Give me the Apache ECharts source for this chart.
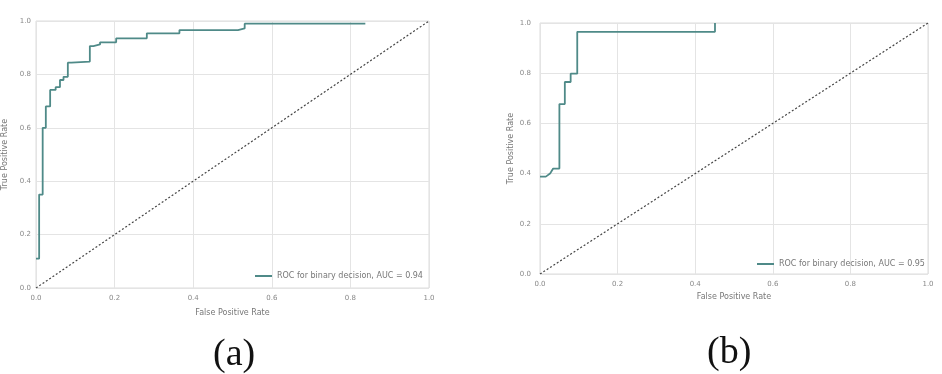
<!DOCTYPE html>
<html>
<head>
<meta charset="utf-8">
<script src="https://cdn.jsdelivr.net/npm/echarts@6/dist/echarts.min.js"></script>
<style>
  html, body { margin: 0; padding: 0; background: #fff; }
  #chart { width: 942px; height: 374px; }
</style>
</head>
<body>
<div id="chart"></div>
<script>
// ROC (a)
const fprA = [0, 0.008, 0.008, 0.017, 0.017, 0.025, 0.025, 0.036, 0.036, 0.05, 0.05, 0.061, 0.061, 0.07, 0.07,
  0.081, 0.081, 0.09, 0.09, 0.137, 0.137, 0.146, 0.146, 0.163, 0.163, 0.204, 0.204, 0.282, 0.282, 0.365, 0.365,
  0.514, 0.514, 0.531, 0.531, 0.838];
const tprA = [0.11, 0.11, 0.35, 0.35, 0.60, 0.60, 0.68, 0.68, 0.742, 0.742, 0.752, 0.752, 0.779, 0.779, 0.791,
  0.791, 0.844, 0.844, 0.848, 0.848, 0.906, 0.906, 0.912, 0.912, 0.92, 0.92, 0.935, 0.935, 0.954, 0.954, 0.966,
  0.966, 0.972, 0.972, 0.99, 0.99];
// ROC (b)
const fprB = [0, 0.015, 0.02, 0.026, 0.03, 0.034, 0.05, 0.05, 0.064, 0.064, 0.079, 0.079, 0.096, 0.096, 0.451, 0.451];
const tprB = [0.388, 0.388, 0.395, 0.40, 0.41, 0.42, 0.42, 0.677, 0.677, 0.765, 0.765, 0.798, 0.798, 0.965, 0.965, 1.0];
const chance = [[0, 0], [1, 1]];
const legendA = 'ROC for binary decision, AUC = 0.94';
const legendB = 'ROC for binary decision, AUC = 0.95';
const panelLabels = ['(a)', '(b)'];

const zip = (xs, ys) => xs.map((x, i) => [x, ys[i]]);
const lineColor = '#4f8a88';

const axisCommon = {
  type: 'value',
  min: 0,
  max: 1,
  interval: 0.2,
  axisLine: { show: false },
  axisTick: { show: false },
  splitLine: { lineStyle: { color: '#e4e4e4', width: 1 } },
  axisLabel: { fontSize: 7, color: '#888', fontFamily: 'DejaVu Sans', formatter: (v) => v.toFixed(1) },
  nameLocation: 'middle',
  nameTextStyle: { fontSize: 8, color: '#777', fontFamily: 'DejaVu Sans' },
};

const xAxis = (idx, gap) => ({
  ...axisCommon,
  gridIndex: idx,
  name: 'False Positive Rate',
  nameGap: gap,
  axisLabel: { ...axisCommon.axisLabel, margin: 7 },
});
const yAxis = (idx, gap, margin) => ({
  ...axisCommon,
  gridIndex: idx,
  name: 'True Positive Rate',
  nameGap: gap,
  axisLabel: { ...axisCommon.axisLabel, margin: margin },
});

const option = {
  animation: false,
  backgroundColor: '#fff',
  grid: [
    { left: 36, top: 21, width: 393, height: 267, show: true, borderColor: '#dcdcdc', borderWidth: 1 },
    { left: 540, top: 23, width: 388, height: 251, show: true, borderColor: '#dcdcdc', borderWidth: 1 },
  ],
  xAxis: [xAxis(0, 21), xAxis(1, 19)],
  yAxis: [yAxis(0, 27, 5), yAxis(1, 25, 9)],
  legend: [
    {
      data: [legendA],
      left: 250,
      top: 267,
      icon: 'rect',
      itemWidth: 17,
      itemHeight: 2,
      itemGap: 6,
      textStyle: { fontSize: 8, color: '#777', fontFamily: 'DejaVu Sans' },
    },
    {
      data: [legendB],
      left: 752,
      top: 255,
      icon: 'rect',
      itemWidth: 17,
      itemHeight: 2,
      textStyle: { fontSize: 8, color: '#777', fontFamily: 'DejaVu Sans' },
    },
  ],
  graphic: [
    {
      type: 'text', left: 213, top: 336, style: { text: panelLabels[0], font: '38px "Liberation Serif"', fill: '#111' },
    },
    {
      type: 'text', left: 707, top: 334, style: { text: panelLabels[1], font: '38px "Liberation Serif"', fill: '#111' },
    },
  ],
  series: [
    {
      name: 'chanceA', type: 'line', xAxisIndex: 0, yAxisIndex: 0, data: chance, symbol: 'none', silent: true,
      lineStyle: { color: '#444', width: 1.2, type: [2, 2] },
    },
    {
      name: legendA, type: 'line', xAxisIndex: 0, yAxisIndex: 0, data: zip(fprA, tprA), symbol: 'none',
      lineStyle: { color: lineColor, width: 1.8 }, itemStyle: { color: lineColor },
    },
    {
      name: 'chanceB', type: 'line', xAxisIndex: 1, yAxisIndex: 1, data: chance, symbol: 'none', silent: true,
      lineStyle: { color: '#444', width: 1.2, type: [2, 2] },
    },
    {
      name: legendB, type: 'line', xAxisIndex: 1, yAxisIndex: 1, data: zip(fprB, tprB), symbol: 'none',
      lineStyle: { color: lineColor, width: 1.8 }, itemStyle: { color: lineColor },
    },
  ],
};

const chart = echarts.init(document.getElementById('chart'));
chart.setOption(option);
window.onresize = () => chart.resize();
</script>
</body>
</html>
